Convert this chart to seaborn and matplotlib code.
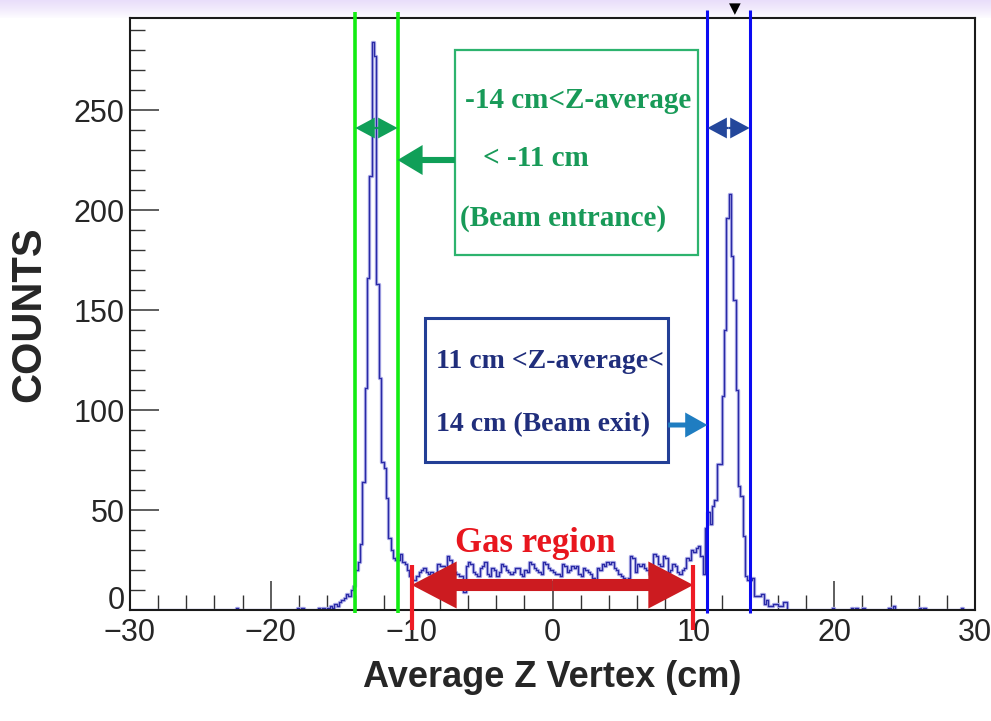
import numpy as np
import pandas as pd
import matplotlib
matplotlib.use("Agg")
import matplotlib.pyplot as plt
from matplotlib.patches import Rectangle, FancyArrowPatch
from matplotlib.colors import LinearSegmentedColormap
from matplotlib.ticker import MultipleLocator
from matplotlib.transforms import ScaledTranslation
import seaborn as sns

# ---------------- data: average Z vertex histogram (1/6 cm bins) ----------------
z_min, z_max, n_bins = -30.0, 30.0, 360

# beam entrance peak, bins starting at -16 cm
entrance_start = -16.0
entrance_counts = [1, 2, 1, 3, 2, 4, 5, 6, 8, 7, 10, 12,
                   20, 24, 33, 64, 111, 166, 217, 284, 277, 163, 116, 74,
                   71, 56, 36, 30, 26, 25]

# gas region, bins starting at -11 cm
gas_start = -11.0
gas_counts = [25, 28, 24, 23, 20, 17, 15, 15, 17, 19, 20, 21,
              19, 18, 19, 18, 17, 23, 22, 22, 21, 27, 25, 21,
              19, 18, 17, 17, 9, 22, 24, 23, 19, 18, 17, 21,
              22, 24, 18, 17, 21, 20, 17, 19, 23, 22, 20, 19,
              18, 19, 21, 21, 18, 17, 20, 19, 24, 23, 21, 20,
              19, 18, 24, 23, 21, 20, 19, 18, 18, 17, 23, 22,
              19, 20, 22, 21, 22, 18, 17, 21, 20, 19, 18, 16,
              15, 21, 20, 23, 22, 24, 23, 24, 21, 20, 18, 17,
              16, 15, 16, 27, 26, 19, 23, 22, 23, 21, 20, 18,
              17, 28, 27, 23, 22, 27, 26, 19, 20, 23, 22, 19,
              18, 20, 21, 26, 25, 30, 29, 31, 32, 27, 18, 41]

# beam exit peak, bins starting at 11 cm
exit_start = 11.0
exit_counts = [49, 43, 52, 55, 73, 73, 107, 140, 196, 208, 177, 155,
               110, 62, 57, 37, 17, 15, 15, 16, 7, 7, 7, 8,
               3, 5, 2, 2, 3, 3, 2, 2, 4, 4, 0, 0]

# isolated entries far from the target
tail_z = [-22.5, -18.1, -17.75, -16.6, -16.25, 19.9, 21.25, 21.6, 22.1,
          23.95, 24.2, 26.1, 26.4, 29.0]
tail_counts = [1, 1, 1, 1, 1, 1, 1, 1, 1, 1, 2, 1, 1, 1]

# selection windows
entrance_cut = (-14.0, -11.0)
exit_cut = (11.0, 14.0)
gas_cut = (-10.0, 10.0)

# ---------------- assemble histogram ----------------
edges = np.linspace(z_min, z_max, n_bins + 1)
centers = 0.5 * (edges[:-1] + edges[1:])
per_cm = n_bins / (z_max - z_min)
counts = np.zeros(n_bins)


def put(start, values):
    i0 = int(round((start - z_min) * per_cm))
    counts[i0:i0 + len(values)] = values


put(entrance_start, entrance_counts)
put(gas_start, gas_counts)
put(exit_start, exit_counts)
for z, n in zip(tail_z, tail_counts):
    counts[int(np.floor((z - z_min) * per_cm))] += n

hist_df = pd.DataFrame({"z": centers, "n": counts})
bin_edges = [float(e) for e in edges]

# ---------------- figure ----------------
sns.set_style("ticks")
plt.rcParams["font.family"] = ["Liberation Sans", "DejaVu Sans"]

W, H = 991, 721
fig = plt.figure(figsize=(W / 100, H / 100), dpi=100)
fig.patch.set_facecolor("white")

# soft lavender band across the top edge
band = fig.add_axes([0, 1 - 18 / H, 1, 18 / H])
band.imshow(np.linspace(0, 1, 64).reshape(-1, 1), aspect="auto",
            cmap=LinearSegmentedColormap.from_list("band", ["#e9defa", "#f2ebfc", "#fdfcff"]),
            extent=[0, 1, 0, 1])
band.axis("off")

ax = fig.add_axes([130 / W, 1 - 610 / H, 845 / W, 592 / H])
ax.set_zorder(2)

sns.histplot(data=hist_df, x="z", weights="n", bins=bin_edges, element="step",
             fill=False, color="#a8a8e6", linewidth=2.4, ax=ax)
sns.histplot(data=hist_df, x="z", weights="n", bins=bin_edges, element="step",
             fill=False, color="#2a2aa6", linewidth=0.9, ax=ax)

ax.set_xlim(z_min, z_max)
ax.set_ylim(0, 296)

# frame and ticks
for s in ax.spines.values():
    s.set_visible(True)
    s.set_linewidth(1.5)
    s.set_color("#1a1a1a")
ax.xaxis.set_major_locator(MultipleLocator(10))
ax.xaxis.set_minor_locator(MultipleLocator(2))
ax.yaxis.set_major_locator(MultipleLocator(50))
ax.yaxis.set_minor_locator(MultipleLocator(10))
ax.tick_params(which="both", direction="in", top=False, right=False, color="#333333")
ax.tick_params(which="major", length=21, width=1.1, labelsize=22, pad=4)
ax.tick_params(which="minor", length=10.5, width=1.0)
ax.tick_params(axis="x", which="major", pad=6)

ax.set_xlabel("Average Z Vertex (cm)", fontsize=26, fontweight="bold")
ax.xaxis.set_label_coords(0.5, -0.085)
ax.set_ylabel("COUNTS", fontsize=30, fontweight="bold")
ax.yaxis.set_label_coords(-0.095, 0.5)

# ---------------- selection windows ----------------
for z in entrance_cut:
    ax.plot([z, z], [-1.5, 299], color="#12ec12", lw=2.6, clip_on=False, zorder=5,
            solid_capstyle="butt")
for z in exit_cut:
    ax.plot([z, z], [-1.5, 300], color="#0b0bf2", lw=2.2, clip_on=False, zorder=5,
            solid_capstyle="butt")
for z in gas_cut:
    ax.plot([z, z], [22.5, -10], color="#ee1c25", lw=3.0, clip_on=False, zorder=7,
            solid_capstyle="butt")


def arrow(start, end, color, ms, hl, hw, tw, z=6):
    ax.add_patch(FancyArrowPatch(
        start, end,
        arrowstyle=f"simple,head_length={hl},head_width={hw},tail_width={tw}",
        mutation_scale=ms, color=color, shrinkA=0, shrinkB=0,
        clip_on=False, zorder=z, lw=0))


# width arrows between the window lines
for lo, hi, col in [(entrance_cut[0], entrance_cut[1], "#109f58"),
                    (exit_cut[0], exit_cut[1], "#24479b")]:
    mid = 0.5 * (lo + hi)
    arrow((mid, 241), (lo, 241), col, 10, 1.4, 1.5, 0.16)
    arrow((mid, 241), (hi, 241), col, 10, 1.4, 1.5, 0.16)

serif = ["Liberation Serif", "DejaVu Serif"]

# gas region double arrow
mid = 0.5 * (gas_cut[0] + gas_cut[1])
arrow((mid, 12.5), (gas_cut[0], 12.5), "#cc1b20", 30, 1.08, 1.13, 0.29, z=6)
arrow((mid, 12.5), (gas_cut[1], 12.5), "#cc1b20", 30, 1.08, 1.13, 0.29, z=6)
ax.text(-1.25, 33.5, "Gas region", color="#e8161e", fontsize=25, fontweight="bold",
        family=serif, ha="center", va="center", zorder=8)

# entrance annotation box
ax.add_patch(Rectangle((-6.92, 177.5), 17.26, 102.5, facecolor="white",
                       edgecolor="#2db36e", lw=1.6, zorder=6))
ax.text(-6.2, 255, "-14 cm<Z-average", color="#189a58", fontsize=21, fontweight="bold",
        family=serif, ha="left", va="center", zorder=7)
ax.text(-4.9, 226, "< -11 cm", color="#189a58", fontsize=21, fontweight="bold",
        family=serif, ha="left", va="center", zorder=7)
ax.text(-6.55, 196, "(Beam entrance)", color="#189a58", fontsize=21, fontweight="bold",
        family=serif, ha="left", va="center", zorder=7)
arrow((-6.92, 225), (entrance_cut[1], 225), "#109f58", 20, 0.9, 1.08, 0.22)

# exit annotation box
ax.add_patch(Rectangle((-9.05, 74), 17.26, 72, facecolor="white",
                       edgecolor="#233f96", lw=2.2, zorder=6))
ax.text(-8.3, 124, "11 cm <Z-average<", color="#202e7c", fontsize=20, fontweight="bold",
        family=serif, ha="left", va="center", zorder=7)
ax.text(-8.3, 92.5, "14 cm (Beam exit)", color="#202e7c", fontsize=20, fontweight="bold",
        family=serif, ha="left", va="center", zorder=7)
arrow((8.21, 92.5), (exit_cut[0], 92.5), "#1f7dc1", 20, 0.8, 0.9, 0.18)

fig.text(735 / W, 1 - 9 / H, "\u25bc", color="black", fontsize=11,
         ha="center", va="center", family=["DejaVu Sans"])

# lift the zero label on the count axis so it clears the z labels
fig.canvas.draw()
lift = ScaledTranslation(0, 9 / 72, fig.dpi_scale_trans)
for tick in ax.yaxis.get_major_ticks():
    if abs(tick.get_loc()) < 1e-9:
        tick.label1.set_transform(tick.label1.get_transform() + lift)

fig.savefig("out.png", dpi=100)
